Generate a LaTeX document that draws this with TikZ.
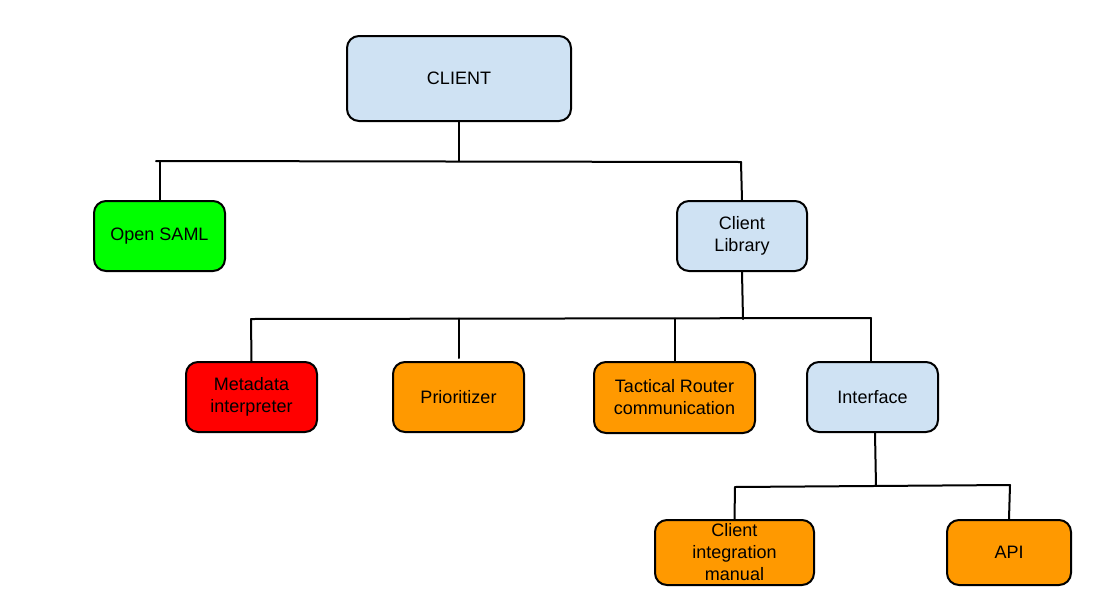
\documentclass[tikz,border=0pt]{standalone}
\usepackage{fontspec}
\setmainfont{Liberation Sans}
\definecolor{lblue}{HTML}{CFE2F3}
\definecolor{lgreen}{HTML}{00FF00}
\definecolor{lred}{HTML}{FF0000}
\definecolor{lorange}{HTML}{FF9900}
\begin{document}
\begin{tikzpicture}[x=0.75pt,y=-0.75pt,
  box/.style={draw=black,line width=1.5pt,rounded corners=9pt,inner sep=0pt,align=center,
    font=\fontsize{13.5pt}{16.5pt}\selectfont},
  conn/.style={line width=1.5pt,line cap=round}]
\useasboundingbox (0,0) rectangle (1101,615);
\node[box,fill=lblue,minimum width=168pt,minimum height=63.75pt] (client) at (459,78.5) {CLIENT};
\node[box,fill=lgreen,minimum width=98.25pt,minimum height=52.5pt] (saml) at (159.5,236) {Open SAML};
\node[box,fill=lblue,minimum width=97.5pt,minimum height=52.5pt] (lib) at (742,236) {Client\\Library};
\node[box,fill=lred,minimum width=98.25pt,minimum height=52.5pt] (meta) at (251.5,397) {Metadata\\interpreter};
\node[box,fill=lorange,minimum width=98.25pt,minimum height=52.5pt] (prio) at (458.5,397) {Prioritizer};
\node[box,fill=lorange,minimum width=120.75pt,minimum height=53.25pt] (tact) at (674.5,397.5) {Tactical Router\\communication};
\node[box,fill=lblue,minimum width=98.25pt,minimum height=52.5pt] (iface) at (872.5,397) {Interface};
\node[box,fill=lorange,minimum width=119.25pt,minimum height=48.75pt] (cim) at (734.5,552.5) {Client\\integration\\manual};
\node[box,fill=lorange,minimum width=93pt,minimum height=48.75pt] (api) at (1009,552.5) {API};

% level 1
\coordinate (b1) at (459,161);
\coordinate (b1L) at (156,161);
\coordinate (b1R) at (741,162);
\coordinate (b1s) at (160,161.5);
\draw[conn] (client.south) -- (b1);
\draw[conn] (b1L) -- (b1R);
\draw[conn] (b1s) -- (saml.north -| b1s);
\draw[conn] (b1R) -- (lib.north);
% level 2
\coordinate (b2) at (743,319);
\coordinate (b2L) at (251,319);
\coordinate (b2R) at (871,318);
\coordinate (b2p) at (459,318.5);
\coordinate (b2pe) at (459,358);
\coordinate (b2t) at (675,318.5);
\draw[conn] (lib.south) -- (b2);
\draw[conn] (b2L) -- (b2R);
\draw[conn] (b2L) -- (meta.north);
\draw[conn] (b2p) -- (b2pe);
\draw[conn] (b2t) -- (tact.north -| b2t);
\draw[conn] (b2R) -- (iface.north -| b2R);
% level 3
\coordinate (b3) at (876,486);
\coordinate (b3L) at (735,487);
\coordinate (b3R) at (1010,485);
\draw[conn] (iface.south -| 875,0) -- (b3);
\draw[conn] (b3L) -- (b3R);
\draw[conn] (b3L) -- (cim.north);
\draw[conn] (b3R) -- (api.north);
\end{tikzpicture}
\end{document}
